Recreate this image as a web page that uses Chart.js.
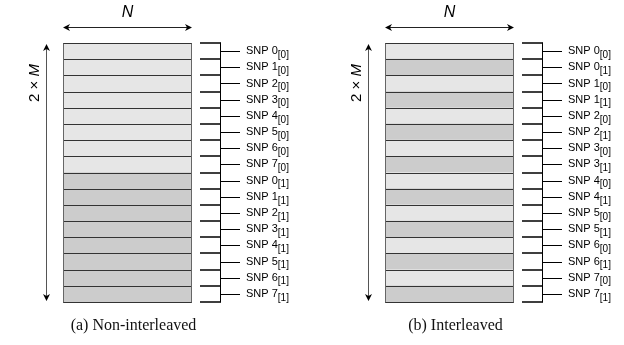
<!DOCTYPE html>
<html><head><meta charset="utf-8">
<script src="https://cdn.jsdelivr.net/npm/chart.js@4.4.0/dist/chart.umd.min.js"></script>
<style>
html,body{margin:0;padding:0;background:#fff;width:624px;height:345px;overflow:hidden}
.p{position:absolute;top:0;width:312px;height:345px}
</style></head><body>
<div class="p" style="left:0"><canvas id="c1" width="312" height="345"></canvas></div>
<div class="p" style="left:312px"><canvas id="c2" width="312" height="345"></canvas></div>
<script>
// Non-interleaved layout: SNP index and copy group per row
const snpA   = [0,1,2,3,4,5,6,7,0,1,2,3,4,5,6,7];
const groupA = [0,0,0,0,0,0,0,0,1,1,1,1,1,1,1,1];
// Interleaved layout
const snpB   = [0,0,1,1,2,2,3,3,4,4,5,5,6,6,7,7];
const groupB = [0,1,0,1,0,1,0,1,0,1,0,1,0,1,0,1];
// each row spans the full width N
const rowWidth = [1,1,1,1,1,1,1,1,1,1,1,1,1,1,1,1];
const captions = ['(a) Non-interleaved', '(b) Interleaved'];
const widthLabel = 'N';
const heightLabelA = '2 \u00d7 ';
const heightLabelB = 'M';

const groupColors = ['#e6e6e6', '#cccccc'];

function arrowHead(ctx, x, y, dir) {
  ctx.beginPath();
  const L = 7, W = 3.5;
  if (dir === 'l') { ctx.moveTo(x, y); ctx.lineTo(x+L, y-W); ctx.lineTo(x+L-2, y); ctx.lineTo(x+L, y+W); }
  if (dir === 'r') { ctx.moveTo(x, y); ctx.lineTo(x-L, y-W); ctx.lineTo(x-L+2, y); ctx.lineTo(x-L, y+W); }
  if (dir === 'u') { ctx.moveTo(x, y); ctx.lineTo(x-W, y+L); ctx.lineTo(x, y+L-2); ctx.lineTo(x+W, y+L); }
  if (dir === 'd') { ctx.moveTo(x, y); ctx.lineTo(x-W, y-L); ctx.lineTo(x, y-L+2); ctx.lineTo(x+W, y-L); }
  ctx.closePath();
  ctx.fill();
}

function makeDecor(snp, group, caption) {
  return {
    id: 'decor',
    afterDraw(chart) {
      const ctx = chart.ctx, a = chart.chartArea, y = chart.scales.y;
      const n = chart.data.labels.length;
      const step = y.getPixelForValue(1) - y.getPixelForValue(0);
      const bounds = [];
      for (let i = 0; i < n; i++) bounds.push(y.getPixelForValue(i) - step / 2);
      bounds.push(y.getPixelForValue(n - 1) + step / 2);
      ctx.save();
      ctx.strokeStyle = '#333';
      ctx.lineWidth = 1;
      ctx.beginPath();
      bounds.forEach(b => { const yy = Math.round(b) + 0.5; ctx.moveTo(a.left, yy); ctx.lineTo(a.right, yy); });
      ctx.stroke();
      ctx.strokeStyle = '#666';
      ctx.beginPath();
      ctx.moveTo(Math.round(a.left) + 0.5, Math.round(bounds[0]) + 0.5);
      ctx.lineTo(Math.round(a.left) + 0.5, Math.round(bounds[n]) + 0.5);
      ctx.moveTo(Math.round(a.right) - 0.5, Math.round(bounds[0]) + 0.5);
      ctx.lineTo(Math.round(a.right) - 0.5, Math.round(bounds[n]) + 0.5);
      ctx.stroke();

      // comb
      const x0 = Math.round(a.right) + 8, x1 = x0 + 20, x2 = x1 + 20;
      ctx.strokeStyle = '#000';
      ctx.lineWidth = 1.6;
      ctx.beginPath();
      bounds.forEach(b => { const yy = Math.round(b); ctx.moveTo(x0, yy); ctx.lineTo(x1, yy); });
      ctx.stroke();
      ctx.lineWidth = 1;
      ctx.beginPath();
      ctx.moveTo(x1 + 0.5, Math.round(bounds[0]) - 0.8);
      ctx.lineTo(x1 + 0.5, Math.round(bounds[n]) + 0.8);
      for (let i = 0; i < n; i++) {
        const yy = Math.round(y.getPixelForValue(i)) + 0.5;
        ctx.moveTo(x1, yy); ctx.lineTo(x2, yy);
      }
      ctx.stroke();

      // labels with subscripts
      ctx.fillStyle = '#000';
      ctx.textBaseline = 'middle';
      ctx.textAlign = 'left';
      for (let i = 0; i < n; i++) {
        const yy = y.getPixelForValue(i);
        const main = 'SNP ' + snp[i];
        ctx.font = '11px "Liberation Sans", Arial, sans-serif';
        ctx.fillText(main, x2 + 6, yy);
        const w = ctx.measureText(main).width;
        ctx.font = '10px "Liberation Sans", Arial, sans-serif';
        ctx.fillText('[' + group[i] + ']', x2 + 6 + w, yy + 4);
      }

      // width arrow N
      const ay = Math.round(a.top) - 15.5;
      ctx.strokeStyle = '#222';
      ctx.lineWidth = 1;
      ctx.beginPath(); ctx.moveTo(a.left + 2, ay); ctx.lineTo(a.right - 2, ay); ctx.stroke();
      arrowHead(ctx, a.left, ay, 'l');
      arrowHead(ctx, a.right, ay, 'r');
      ctx.font = 'italic 16px "Liberation Sans", Arial, sans-serif';
      ctx.textAlign = 'center';
      ctx.fillText(widthLabel, (a.left + a.right) / 2, a.top - 30);

      // height arrow 2 x M
      const ax = Math.round(a.left) - 16.5;
      ctx.strokeStyle = '#555';
      ctx.beginPath(); ctx.moveTo(ax, a.top + 3); ctx.lineTo(ax, a.bottom - 3); ctx.stroke();
      arrowHead(ctx, ax, a.top + 1, 'u');
      arrowHead(ctx, ax, a.bottom - 1, 'd');
      ctx.save();
      ctx.translate(a.left - 28, a.top + 40);
      ctx.rotate(-Math.PI / 2);
      ctx.font = '15px "Liberation Sans", Arial, sans-serif';
      const w1 = ctx.measureText(heightLabelA).width;
      ctx.font = 'italic 15px "Liberation Sans", Arial, sans-serif';
      const w2 = ctx.measureText(heightLabelB).width;
      const sx = -(w1 + w2) / 2;
      ctx.textAlign = 'left';
      ctx.font = '15px "Liberation Sans", Arial, sans-serif';
      ctx.fillText(heightLabelA, sx, 0);
      ctx.font = 'italic 15px "Liberation Sans", Arial, sans-serif';
      ctx.fillText(heightLabelB, sx + w1, 0);
      ctx.restore();

      // caption
      ctx.font = '16px "Liberation Serif", "DejaVu Serif", serif';
      ctx.textAlign = 'center';
      ctx.fillStyle = '#111';
      ctx.fillText(caption, (a.left + a.right) / 2 + 6, a.bottom + 24);
      ctx.restore();
    }
  };
}

function build(id, snp, group, caption, padLeft, padRight) {
  new Chart(document.getElementById(id), {
    type: 'bar',
    data: {
      labels: snp.map((s, i) => 'SNP ' + s + '[' + group[i] + ']'),
      datasets: [{
        data: rowWidth,
        backgroundColor: group.map(g => groupColors[g]),
        borderWidth: 0,
        barPercentage: 1,
        categoryPercentage: 1
      }]
    },
    options: {
      indexAxis: 'y',
      responsive: false,
      animation: false,
      events: [],
      layout: { padding: { left: padLeft, right: padRight, top: 43, bottom: 43 } },
      scales: {
        x: { display: false, min: 0, max: 1 },
        y: { display: false }
      },
      plugins: { legend: { display: false }, tooltip: { enabled: false } }
    },
    plugins: [makeDecor(snp, group, caption)]
  });
}

build('c1', snpA, groupA, captions[0], 63, 120);
build('c2', snpB, groupB, captions[1], 73, 110);
</script>
</body></html>
